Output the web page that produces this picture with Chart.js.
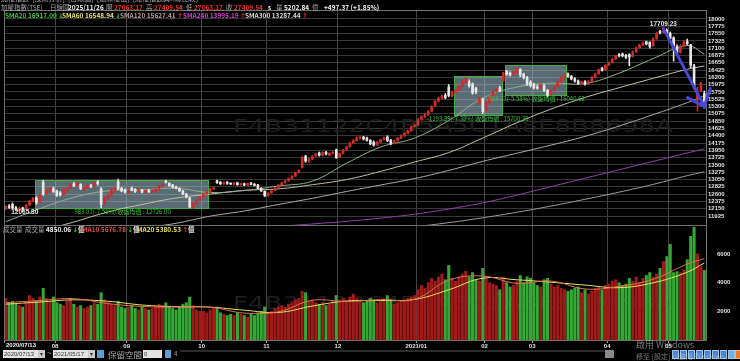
<!DOCTYPE html>
<html>
<head>
<meta charset="utf-8">
<script src="https://cdn.jsdelivr.net/npm/chart.js@4.4.1/dist/chart.umd.min.js"></script>
<style>
  html, body { margin: 0; padding: 0; background: #000; width: 740px; height: 361px; overflow: hidden; }
  #wrap { position: relative; width: 740px; height: 361px; font-family: "Noto Sans CJK TC", "Liberation Sans", sans-serif; }
  #chart { position: absolute; left: 0; top: 0; }
  .t { position: absolute; white-space: nowrap; font-size: 6.5px; line-height: 8px; font-weight: bold; }
  .g { color: #a8a8a8; font-weight: normal; }
  .w { color: #f2f2f2; }
  .r { color: #ec3030; }
  .up { color: #ff3030; font-family: "DejaVu Sans", sans-serif; }
  .dn { color: #30d030; font-family: "DejaVu Sans", sans-serif; }
  .inp { position: absolute; top: 350px; height: 8px; background: #e4e4e4; color: #333; font-size: 6px; line-height: 8px; padding-left: 1px; font-family: "Liberation Sans", sans-serif; }
  .btn { position: absolute; top: 350px; height: 8px; background: #5c9fd4; }
  .ico { position: absolute; top: 350px; width: 7px; height: 9px; background: #4a86c8; border: 1px solid #9cc4ea; box-sizing: border-box; }
</style>
</head>
<body>
<div id="wrap">
  <canvas id="chart" width="740" height="350"></canvas>

  <!-- window title rows -->
  <div class="t g" style="left:1px;top:-6px;font-size:7px;">加權指數 &nbsp;[技術分析] &nbsp;[日線圖] &nbsp;[還原權值] &nbsp;[加權指數與K線比較]</div>
  <div class="t g" style="left:1px;top:3px;">加權指數(TSE)</div>
  <div class="t g" style="left:50px;top:3px;">日線圖</div>
  <div class="t w" style="left:68px;top:3px;">2025/11/26</div>
  <div class="t g" style="left:106px;top:3px;">開</div><div class="t r" style="left:114px;top:3px;">27063.17</div>
  <div class="t g" style="left:146px;top:3px;">高</div><div class="t r" style="left:154px;top:3px;">27409.54</div>
  <div class="t g" style="left:186px;top:3px;">低</div><div class="t r" style="left:194px;top:3px;">27063.17</div>
  <div class="t g" style="left:226px;top:3px;">收</div><div class="t r" style="left:234px;top:3px;">27409.54</div>
  <div class="t w" style="left:268px;top:3px;">s</div>
  <div class="t g" style="left:276px;top:3px;">量</div><div class="t w" style="left:284px;top:3px;">5202.84</div><div class="t g" style="left:312px;top:3px;">億</div>
  <div class="t w" style="left:324px;top:3px;">+497.37 (+1.85%)</div>

  <!-- moving average legend -->
  <div class="t" style="left:5px;top:11px;color:#3ec43e;">SMA20 16917.00 <span class="dn">↓</span></div>
  <div class="t" style="left:62px;top:11px;color:#e0e070;">SMA60 16548.94 <span class="dn">↓</span></div>
  <div class="t" style="left:120px;top:11px;color:#b89c9c;">SMA120 15627.41 <span class="up">↑</span></div>
  <div class="t" style="left:183px;top:11px;color:#d040d0;">SMA240 13995.19 <span class="up">↑</span></div>
  <div class="t" style="left:245px;top:11px;color:#d8d8d8;">SMA300 13287.44 <span class="up">↑</span></div>

  <!-- volume legend -->
  <div class="t g" style="left:3px;top:225px;">成交量</div>
  <div class="t" style="left:25px;top:225px;"><span class="g">成交量</span> <span class="w">4850.06</span> <span class="dn">↓</span><span class="w">億</span></div>
  <div class="t" style="left:82px;top:225px;color:#e04848;">MA10 5676.78 <span class="dn">↓</span><span class="w">億</span></div>
  <div class="t" style="left:137px;top:225px;color:#e8e050;">MA20 5380.53 <span class="up">↑</span><span class="w">億</span></div>

  <!-- first date label -->
  <div class="t w" style="left:6px;top:341px;font-size:6px;font-family:'Liberation Sans',sans-serif;">2020/07/13</div>

  <!-- bottom tool bar -->
  <div class="inp" style="left:3px;width:41px;">2020/07/13 <span style="float:right;background:#ccc;width:7px;text-align:center;">▾</span></div>
  <div class="t g" style="left:47px;top:349px;font-size:8px;">~</div>
  <div class="inp" style="left:53px;width:41px;">2021/05/17 <span style="float:right;background:#ccc;width:7px;text-align:center;">▾</span></div>
  <div class="btn" style="left:97px;width:7px;"></div>
  <div class="t g" style="left:108px;top:349px;font-size:8.5px;line-height:10px;">保留空間</div>
  <div class="inp" style="left:143px;width:18px;">0</div>
  <div class="btn" style="left:165px;width:6px;"></div>
  <div class="t g" style="left:174px;top:350px;font-size:6px;">4</div>
  <div style="position:absolute;left:180px;top:350px;width:425px;height:2px;background:#2a2a2a;"></div>
  <div style="position:absolute;left:605px;top:350px;width:9px;height:8px;background:#8a8a8a;"></div>
  <div class="ico" style="left:672px;"></div><div class="ico" style="left:680px;"></div>
  <div class="ico" style="left:688px;"></div><div class="ico" style="left:696px;"></div>
  <div class="ico" style="left:704px;"></div><div class="ico" style="left:712px;"></div>
  <div class="ico" style="left:720px;"></div><div class="ico" style="left:728px;background:#6fb2e8;"></div>
  <div class="ico" style="left:735px;background:#e87830;border-color:#f4b080;"></div>

  <!-- windows activation watermark -->
  <div class="t" style="left:636px;top:339px;font-size:9px;line-height:11px;color:rgba(210,210,210,0.55);font-weight:normal;">啟用 Windows</div>
  <div class="t" style="left:636px;top:352px;font-size:7px;line-height:9px;color:rgba(210,210,210,0.55);font-weight:normal;">移至 [設定] 以啟用 Windows。</div>
</div>

<script>
// Trading days shown on the chart, per month
const tradingDays = {
    '2020/07': [13, 14, 15, 16, 17, 20, 21, 22, 23, 24, 27, 28, 29, 30, 31],
    '2020/08': [3, 4, 5, 6, 7, 10, 11, 12, 13, 14, 17, 18, 19, 20, 21, 24, 25, 26, 27, 28, 31],
    '2020/09': [1, 2, 3, 4, 7, 8, 9, 10, 11, 14, 15, 16, 17, 18, 21, 22, 23, 24, 25, 28, 29, 30],
    '2020/10': [5, 6, 7, 8, 12, 13, 14, 15, 16, 19, 20, 21, 22, 23, 26, 27, 28, 29, 30],
    '2020/11': [2, 3, 4, 5, 6, 9, 10, 11, 12, 13, 16, 17, 18, 19, 20, 23, 24, 25, 26, 27, 30],
    '2020/12': [1, 2, 3, 4, 7, 8, 9, 10, 11, 14, 15, 16, 17, 18, 21, 22, 23, 24, 25, 28, 29, 30, 31],
    '2021/01': [4, 5, 6, 7, 8, 11, 12, 13, 14, 15, 18, 19, 20, 21, 22, 25, 26, 27, 28, 29],
    '2021/02': [1, 2, 3, 4, 5, 17, 18, 19, 20, 22, 23, 24, 25, 26],
    '2021/03': [2, 3, 4, 5, 8, 9, 10, 11, 12, 15, 16, 17, 18, 19, 22, 23, 24, 25, 26, 29, 30, 31],
    '2021/04': [6, 7, 8, 9, 12, 13, 14, 15, 16, 19, 20, 21, 22, 23, 26, 27, 28, 29],
    '2021/05': [3, 4, 5, 6, 7, 10, 11, 12, 13, 14, 17]
};
const dates = [];
for (const m in tradingDays) {
    tradingDays[m].forEach(d => dates.push(m + '/' + String(d).padStart(2, '0')));
}

// Daily candles (one row per month)
const openPx = [
    12150, 12230, 12280, 12180, 12120, 12170, 12150, 12260, 12390, 12480, 12350, 12960, 12610, 12690, 12760,
    12690, 12640, 12600, 12720, 12790, 12920, 12860, 12900, 12750, 12800, 12860, 12840, 12980, 12760, 12300, 12480, 12580, 12720, 12990, 12780, 12720,
    12650, 12790, 12740, 12690, 12730, 12660, 12710, 12670, 12700, 12760, 12850, 13000, 12930, 12880, 12820, 12780, 12700, 12600, 12480, 12190, 12310, 12400,
    12520, 12610, 12660, 12760, 13010, 12960, 12920, 12960, 12930, 12900, 12950, 12890, 12920, 12880, 12930, 12900, 12880, 12780, 12690,
    12560, 12640, 12710, 12800, 12890, 12960, 13010, 13080, 13160, 13270, 13420, 13760, 13620, 13680, 13780, 13870, 13800, 13890, 13800, 13860, 13960,
    13740, 13860, 13970, 14060, 14180, 14250, 14330, 14360, 14330, 14260, 14200, 14120, 14200, 14280, 14360, 14260, 14170, 14250, 14330, 14400, 14480, 14560, 14690,
    14730, 14910, 14990, 15050, 15160, 15320, 15470, 15560, 15640, 15900, 15630, 15740, 15800, 15930, 16040, 16060, 15990, 15860, 15420, 15520,
    15200, 15420, 15640, 15780, 15880, 16100, 16380, 16330, 16300, 16360, 16440, 16300, 16200, 16050,
    15980, 15900, 15870, 15950, 15800, 15680, 15800, 15920, 16060, 16200, 16300, 16230, 16160, 16090, 16020, 16070, 15990, 16080, 16200, 16310, 16480, 16440,
    16580, 16660, 16770, 16900, 16920, 16880, 16900, 16850, 16990, 17120, 17200, 17290, 17280, 17180, 17390, 17620, 17600, 17650,
    17560, 17420, 17150, 16980, 17170, 17300, 17200, 16550, 15500, 15800, 15700
];
const highPx = [
    12240, 12280, 12330, 12220, 12190, 12200, 12280, 12410, 12500, 12520, 12600, 13030, 12740, 12800, 12820,
    12720, 12680, 12740, 12820, 12930, 12960, 12960, 12920, 12830, 12890, 12900, 12990, 13020, 12800, 12500, 12590, 12750, 12810, 13060, 12810, 12760,
    12730, 12820, 12770, 12760, 12750, 12720, 12740, 12740, 12770, 12870, 12930, 13030, 12950, 12900, 12850, 12800, 12720, 12620, 12500, 12330, 12420, 12520,
    12620, 12680, 12780, 12820, 13030, 12990, 12980, 12990, 12950, 12960, 12970, 12930, 12940, 12950, 12960, 12930, 12900, 12800, 12700,
    12650, 12720, 12810, 12900, 12970, 13030, 13100, 13170, 13280, 13350, 13760, 13800, 13700, 13790, 13860, 13900, 13910, 13920, 13880, 13910, 13990,
    13870, 13980, 14080, 14200, 14280, 14360, 14400, 14380, 14360, 14280, 14240, 14230, 14300, 14360, 14400, 14290, 14260, 14350, 14430, 14500, 14580, 14700, 14760,
    14930, 15020, 15090, 15180, 15330, 15490, 15590, 15660, 15700, 15980, 15780, 15840, 15960, 16100, 16200, 16120, 16030, 15900, 15580, 15560,
    15440, 15640, 15800, 15880, 15920, 16360, 16420, 16370, 16400, 16500, 16470, 16330, 16230, 16100,
    16020, 15960, 16000, 15980, 15830, 15820, 15940, 16080, 16230, 16300, 16340, 16260, 16190, 16120, 16090, 16100, 16100, 16230, 16330, 16460, 16510, 16600,
    16680, 16790, 16880, 16930, 16950, 16910, 16930, 17010, 17130, 17230, 17290, 17320, 17300, 17420, 17590, 17650, 17709.23, 17700,
    17600, 17450, 17200, 17200, 17330, 17380, 17220, 16600, 15900, 16050, 15780
];
const lowPx = [
    12120, 12160, 12140, 12090, 12080, 12065.8, 12130, 12250, 12370, 12290, 12330, 12560, 12580, 12660, 12650,
    12530, 12540, 12580, 12700, 12770, 12830, 12840, 12740, 12720, 12780, 12800, 12820, 12880, 12180, 12270, 12450, 12560, 12690, 12740, 12670, 12630,
    12620, 12700, 12650, 12670, 12640, 12640, 12650, 12650, 12680, 12740, 12830, 12940, 12840, 12790, 12760, 12680, 12580, 12480, 12180, 12150, 12280, 12380,
    12500, 12590, 12640, 12740, 12930, 12890, 12900, 12900, 12890, 12880, 12870, 12870, 12860, 12860, 12880, 12850, 12760, 12680, 12520,
    12540, 12620, 12700, 12780, 12870, 12940, 12990, 13060, 13140, 13250, 13400, 13580, 13580, 13660, 13760, 13770, 13780, 13810, 13780, 13840, 13700,
    13720, 13840, 13950, 14040, 14160, 14230, 14300, 14270, 14230, 14120, 14080, 14100, 14180, 14260, 14220, 14120, 14150, 14230, 14310, 14380, 14460, 14540, 14670,
    14700, 14880, 14950, 15020, 15140, 15300, 15440, 15530, 15540, 15600, 15600, 15710, 15780, 15900, 16010, 15900, 15680, 15700, 15380, 15080,
    15160, 15400, 15620, 15740, 15760, 16080, 16260, 16240, 16270, 16330, 16220, 16150, 15950, 15900,
    15840, 15830, 15840, 15760, 15600, 15650, 15770, 15900, 16030, 16180, 16200, 16120, 16050, 15980, 15990, 15960, 15970, 16060, 16180, 16290, 16390, 16420,
    16560, 16640, 16750, 16830, 16830, 16780, 16560, 16830, 16970, 17100, 17180, 17200, 17100, 17160, 17370, 17540, 17570, 17520,
    17350, 16700, 16900, 16950, 17140, 17200, 16500, 15850, 15160, 15750, 15250
];
const closePx = [
    12210, 12190, 12170, 12130, 12160, 12140, 12260, 12390, 12470, 12330, 12560, 12600, 12700, 12760, 12680,
    12560, 12580, 12720, 12790, 12900, 12860, 12930, 12760, 12800, 12870, 12830, 12960, 12920, 12290, 12480, 12560, 12720, 12790, 12760, 12700, 12660,
    12700, 12720, 12680, 12730, 12660, 12700, 12670, 12720, 12750, 12850, 12900, 12960, 12860, 12810, 12790, 12700, 12600, 12500, 12200, 12300, 12400, 12500,
    12600, 12660, 12760, 12800, 12950, 12920, 12950, 12930, 12910, 12940, 12890, 12910, 12880, 12920, 12900, 12870, 12780, 12700, 12550,
    12620, 12700, 12790, 12880, 12950, 13000, 13080, 13150, 13260, 13330, 13720, 13620, 13680, 13760, 13830, 13800, 13880, 13840, 13860, 13880, 13720,
    13850, 13960, 14050, 14180, 14250, 14330, 14360, 14300, 14260, 14150, 14110, 14200, 14280, 14330, 14250, 14160, 14240, 14330, 14400, 14480, 14560, 14680, 14730,
    14900, 14980, 15050, 15150, 15300, 15460, 15560, 15620, 15580, 15640, 15740, 15800, 15930, 16050, 16150, 15940, 15720, 15760, 15530, 15140,
    15410, 15600, 15760, 15850, 15800, 16330, 16300, 16280, 16360, 16450, 16280, 16200, 15990, 15950,
    15880, 15870, 15960, 15800, 15650, 15780, 15900, 16050, 16200, 16270, 16230, 16150, 16080, 16010, 16060, 15990, 16070, 16200, 16300, 16430, 16420, 16570,
    16650, 16760, 16850, 16870, 16860, 16820, 16830, 16980, 17100, 17190, 17260, 17230, 17150, 17380, 17560, 17580, 17640, 17560,
    17400, 17170, 16950, 17160, 17280, 17240, 16580, 15900, 15670, 16000, 15350
];

// Daily turnover (億)
const volume = [
    2900, 2600, 2700, 2500, 2400, 2300, 2600, 3100, 2900, 2700, 3000, 3600, 2900, 2700, 3000,
    2600, 2500, 2400, 2700, 2900, 2500, 2300, 2400, 2200, 2300, 2400, 2600, 2500, 3300, 2800, 2600, 2500, 2400, 2700, 2300, 2200,
    2300, 2400, 2200, 2100, 2300, 2200, 2100, 2200, 2300, 2500, 2400, 2600, 2300, 2200, 2100, 2300, 2500, 2600, 3000, 2400, 2100, 2000,
    2000, 1900, 2100, 2200, 2300, 1900, 1800, 1700, 1800, 1700, 1900, 1800, 1700, 1600, 1800, 1700, 1900, 2000, 2300,
    1900, 2000, 2200, 2300, 2400, 2300, 2500, 2600, 2800, 2900, 3400, 3300, 2700, 2800, 2600, 2500, 2600, 2400, 2500, 2700, 3100,
    2800, 2900, 2700, 3000, 3200, 2900, 2800, 2600, 2700, 2900, 2800, 2600, 2700, 2900, 3100, 2800, 2500, 2600, 2700, 2800, 2900, 3000, 3100,
    3500, 3800, 3600, 4000, 4300, 4100, 4400, 4600, 4200, 5200, 4300, 4100, 4400, 4600, 4800, 4400, 4700, 4200, 4100, 5000,
    4300, 4000, 3900, 3800, 3500, 4400, 4000, 3700, 3800, 4100, 4500, 4000, 4400, 4300,
    4000, 3800, 3700, 4200, 4300, 3900, 3700, 3800, 3600, 3500, 3400, 3500, 3600, 3700, 3300, 3500, 3200, 3400, 3600, 3700, 3500, 3800,
    3900, 4100, 4200, 4000, 3800, 3900, 4300, 4100, 4400, 4000, 4300, 4500, 4700, 4400, 4600, 5000, 5470, 5820,
    6670, 4700, 4770, 4700, 4900, 5600, 7230, 7860, 6000, 5120, 4850
];

// Moving average lines at every 10th bar
const maIdx = [0, 10, 20, 30, 40, 50, 60, 70, 80, 90, 100, 110, 120, 130, 140, 150, 160, 170, 180, 190, 200, 205];
const sma20 = [11750, 12150, 12500, 12700, 12730, 12780, 12650, 12710, 12850, 13000, 13550, 14050, 14330, 14870, 15560, 15900, 16020, 16010, 16330, 16780, 17180, 16917];
const sma60 = [11150, 11450, 11740, 12050, 12280, 12480, 12600, 12715, 12760, 12890, 13050, 13300, 13590, 13880, 14330, 14800, 15220, 15580, 15880, 16170, 16450, 16548.94];
const sma120 = [11000, 11100, 11250, 11400, 11550, 11700, 11920, 12080, 12280, 12470, 12680, 12880, 13080, 13330, 13610, 13860, 14110, 14380, 14700, 15050, 15420, 15627.41];
const sma240 = [10950, 11000, 11080, 11170, 11240, 11320, 11400, 11500, 11600, 11680, 11760, 11860, 11980, 12140, 12330, 12570, 12830, 13090, 13350, 13610, 13870, 13995.19];
const sma300 = [10800, 10850, 10900, 10950, 11000, 11050, 11100, 11150, 11220, 11290, 11370, 11470, 11590, 11720, 11870, 12040, 12230, 12440, 12660, 12900, 13170, 13287.44];
const volMa10 = [2600, 2750, 2880, 2540, 2340, 2290, 2290, 1880, 1970, 2770, 2680, 2820, 2840, 4170, 4460, 3950, 4110, 3560, 3740, 4240, 5300, 5676.78];
const volMa20 = [2500, 2650, 2800, 2700, 2440, 2320, 2290, 2080, 1920, 2370, 2720, 2750, 2830, 3500, 4310, 4200, 4030, 3830, 3650, 3990, 4730, 5380.53];

// Axis ticks
const monthTicks = [0, 15, 36, 58, 77, 98, 121, 141, 155, 177, 195];
const monthLabels = ['2020/07/13', '08', '09', '10', '11', '12', '2021/01', '02', '03', '04', '05'];
const priceStep = 225, priceTickLow = 11925, priceTickHigh = 18000;
const volTicks = [2000, 4000, 6000];

// Marked points and the three range boxes
const peak = { index: 193, value: 17709.23, text: '17709.23' };
const trough = { index: 5, value: 12065.8, text: '12065.80' };
const arrowEnd = { index: 205, value: 15300 };
const boxes = [
    { from: 9, to: 59, top: 13040, bottom: 12175, text: '-983.07(-7.51%) 收盤均價 : 12726.00' },
    { from: 132, to: 145, top: 16243, bottom: 15041, text: '-1193.89(-7.38%) 收盤均價 : 15700.39' },
    { from: 147, to: 164, top: 16592, bottom: 15667, text: '-924.73(-5.58%) 收盤均價 : 16040.62' }
];
const watermarkText = 'F4B31122C4B5A5C1A8E8B8698A';

// Colours
const upColor = '#d42a2a', downColor = '#e6e6e6';
const candleColors = closePx.map((c, i) => c >= openPx[i] ? upColor : downColor);
const volColors = closePx.map((c, i) => c >= openPx[i] ? '#a01a1a' : '#34a834');

function linePoints(values) {
    return maIdx.map((i, k) => ({ x: dates[i], y: values[k] }));
}

function maLine(values, color, axis) {
    return {
        type: 'line',
        data: linePoints(values),
        borderColor: color,
        borderWidth: 1,
        pointRadius: 0,
        tension: 0.4,
        yAxisID: axis,
        order: axis === 'y' ? 2 : -1
    };
}

function drawWatermark(ctx, left, midY, width) {
    ctx.save();
    ctx.font = '17px "DejaVu Sans"';
    const w = ctx.measureText(watermarkText).width;
    ctx.translate(left, midY);
    ctx.scale(width / w, 1);
    ctx.fillStyle = '#1f1f1f';
    ctx.textBaseline = 'middle';
    ctx.fillText(watermarkText, 0, 0);
    ctx.restore();
}

// Plugin: keeps each dataset inside its own panel and draws the overlays
const overlay = {
    id: 'overlay',
    beforeDatasetDraw(chart, args) {
        const s = chart.scales[args.meta.yAxisID];
        const a = chart.chartArea;
        chart.ctx.save();
        chart.ctx.beginPath();
        chart.ctx.rect(a.left, s.top, a.right - a.left, s.bottom - s.top);
        chart.ctx.clip();
    },
    afterDatasetDraw(chart) {
        chart.ctx.restore();
    },
    beforeDatasetsDraw(chart) {
        const { ctx, scales: { x, y } } = chart;
        drawWatermark(ctx, 233, 128, 440);
        drawWatermark(ctx, 233, 305, 440);

        const half = (x.getPixelForValue(1) - x.getPixelForValue(0)) / 2;
        boxes.forEach(b => {
            const l = Math.round(x.getPixelForValue(b.from) - half);
            const r = Math.round(x.getPixelForValue(b.to) + half);
            const t = Math.round(y.getPixelForValue(b.top));
            const btm = Math.round(y.getPixelForValue(b.bottom));
            ctx.fillStyle = 'rgba(165, 195, 210, 0.55)';
            ctx.fillRect(l, t, r - l, btm - t);
            ctx.strokeStyle = '#3fae3f';
            ctx.lineWidth = 1;
            ctx.strokeRect(l + 0.5, t + 0.5, r - l, btm - t);
        });
    },
    afterDatasetsDraw(chart) {
        const { ctx, chartArea: a, scales: { x, y } } = chart;
        const half = (x.getPixelForValue(1) - x.getPixelForValue(0)) / 2;

        // panel borders
        ctx.save();
        ctx.strokeStyle = '#707070';
        ctx.lineWidth = 1;
        ctx.beginPath();
        ctx.moveTo(a.left, Math.round(a.top) + 0.5);
        ctx.lineTo(a.right, Math.round(a.top) + 0.5);
        ctx.moveTo(Math.round(a.left) + 0.5, a.top);
        ctx.lineTo(Math.round(a.left) + 0.5, a.bottom);
        ctx.moveTo(a.left, Math.round(y.bottom) + 0.5);
        ctx.lineTo(a.right, Math.round(y.bottom) + 0.5);
        ctx.stroke();

        // box captions
        ctx.fillStyle = '#3fc43f';
        ctx.font = '6px "Noto Sans CJK TC"';
        ctx.textAlign = 'center';
        ctx.textBaseline = 'top';
        boxes.forEach(b => {
            const l = x.getPixelForValue(b.from) - half;
            const r = x.getPixelForValue(b.to) + half;
            ctx.fillText(b.text, (l + r) / 2, y.getPixelForValue(b.bottom) + 1);
        });

        // high / low labels
        ctx.fillStyle = '#e0e0e0';
        ctx.font = 'bold 6.5px "Liberation Sans"';
        ctx.textBaseline = 'bottom';
        ctx.fillText(peak.text, x.getPixelForValue(peak.index), y.getPixelForValue(peak.value) - 1);
        ctx.textBaseline = 'top';
        ctx.fillText(trough.text, x.getPixelForValue(trough.index) + 2, y.getPixelForValue(trough.value) - 2);

        // blue arrow from the top to the last bar
        const x0 = x.getPixelForValue(peak.index), y0 = y.getPixelForValue(peak.value);
        const x1 = x.getPixelForValue(arrowEnd.index), y1 = y.getPixelForValue(arrowEnd.value);
        const back = Math.atan2(y0 - y1, x0 - x1);
        ctx.strokeStyle = '#4848d4';
        ctx.lineWidth = 3;
        ctx.lineCap = 'round';
        ctx.beginPath();
        ctx.moveTo(x0, y0);
        ctx.lineTo(x1, y1);
        ctx.moveTo(x1 + 19 * Math.cos(back - 0.6), y1 + 19 * Math.sin(back - 0.6));
        ctx.lineTo(x1, y1);
        ctx.lineTo(x1 + 19 * Math.cos(back + 0.8), y1 + 19 * Math.sin(back + 0.8));
        ctx.stroke();
        ctx.restore();
    }
};

const tickFont = { family: 'Liberation Sans', size: 6, weight: 'bold' };

new Chart(document.getElementById('chart'), {
    type: 'bar',
    data: {
        labels: dates,
        datasets: [
            { label: 'body', data: openPx.map((o, i) => [o, closePx[i]]), backgroundColor: candleColors,
              barThickness: 2, minBarLength: 1, grouped: false, yAxisID: 'y', order: 0 },
            { label: 'wick', data: lowPx.map((l, i) => [l, highPx[i]]), backgroundColor: candleColors,
              barThickness: 1, grouped: false, yAxisID: 'y', order: 1 },
            maLine(sma20, '#8fb08f', 'y'),
            maLine(sma60, '#c0c0a0', 'y'),
            maLine(sma120, '#b0a8a8', 'y'),
            maLine(sma240, '#9040a8', 'y'),
            maLine(sma300, '#9a9a9a', 'y'),
            { label: 'volume', data: volume, backgroundColor: volColors,
              barThickness: 2.4, grouped: false, yAxisID: 'yv', order: 5 },
            maLine(volMa10, '#e07050', 'yv'),
            maLine(volMa20, '#e8e060', 'yv')
        ]
    },
    options: {
        responsive: false,
        animation: false,
        layout: { padding: { left: 4, right: 0, top: 10, bottom: 0 } },
        plugins: {
            legend: { display: false },
            tooltip: { enabled: false }
        },
        scales: {
            x: {
                type: 'category',
                offset: true,
                grid: { color: '#454545', offset: false, tickLength: 3, tickColor: '#999' },
                border: { color: '#707070' },
                ticks: {
                    autoSkip: false, maxRotation: 0, color: '#e0e0e0', font: tickFont, padding: 0,
                    callback: (v, i) => i > 0 ? monthLabels[i] : ''
                },
                afterBuildTicks: s => { s.ticks = monthTicks.map(v => ({ value: v - 0.5 })); },
                afterFit: s => { s.height = 10; }
            },
            y: {
                position: 'right',
                stack: 'panels',
                stackWeight: 215,
                min: 11647.5,
                max: 18277,
                grid: { color: '#383838', drawTicks: false },
                border: { color: '#707070' },
                ticks: { stepSize: priceStep, autoSkip: false, color: '#e0e0e0', font: tickFont, padding: 2,
                         callback: v => String(v) },
                afterBuildTicks: s => {
                    s.ticks = s.ticks.filter(t => t.value >= priceTickLow && t.value <= priceTickHigh && t.value % priceStep === 0);
                },
                afterFit: s => { s.width = 34; }
            },
            yv: {
                position: 'right',
                stack: 'panels',
                stackWeight: 115,
                min: 0,
                max: 8020,
                grid: { display: false },
                border: { color: '#707070' },
                ticks: { autoSkip: false, color: '#e0e0e0', font: tickFont, padding: 3,
                         callback: v => String(v) },
                afterBuildTicks: s => { s.ticks = volTicks.map(v => ({ value: v })); },
                afterFit: s => { s.width = 34; }
            }
        }
    },
    plugins: [overlay]
});
</script>
</body>
</html>
